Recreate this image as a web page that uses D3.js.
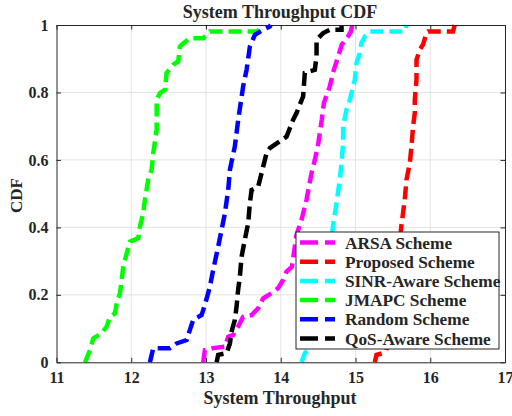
<!DOCTYPE html>
<html>
<head>
<meta charset="utf-8">
<script src="https://cdn.jsdelivr.net/npm/d3@7"></script>
<style>
  body { margin: 0; background: #fff; }
  text { font-family: "Liberation Serif", "Times New Roman", serif; font-weight: bold; fill: #262626; }
</style>
</head>
<body>
<div id="main"></div>
<script>
// each series: [throughput, cdf] pairs
var arsa = [[12.963,0],[12.985,0.036],[13.096,0.042],[13.253,0.046],[13.297,0.076],[13.364,0.081],[13.430,0.106],[13.497,0.135],[13.610,0.140],[13.698,0.160],[13.765,0.190],[13.877,0.205],[13.965,0.220],[14.032,0.244],[14.078,0.269],[14.149,0.283],[14.211,0.378],[14.278,0.422],[14.345,0.482],[14.412,0.561],[14.456,0.600],[14.496,0.640],[14.549,0.719],[14.577,0.769],[14.656,0.818],[14.710,0.867],[14.763,0.903],[14.817,0.942],[14.897,0.965],[14.937,0.980],[14.957,1]];
var proposed = [[15.258,0],[15.281,0.022],[15.369,0.027],[15.414,0.035],[15.459,0.096],[15.512,0.200],[15.566,0.304],[15.615,0.407],[15.659,0.482],[15.682,0.541],[15.727,0.591],[15.749,0.640],[15.770,0.699],[15.793,0.739],[15.793,0.778],[15.816,0.838],[15.816,0.897],[15.860,0.927],[15.904,0.942],[15.949,0.976],[15.972,0.981],[16.305,0.981],[16.327,1]];
var sinr = [[14.278,0],[14.322,0.027],[14.366,0.036],[14.442,0.081],[14.523,0.155],[14.590,0.229],[14.643,0.309],[14.701,0.407],[14.746,0.472],[14.790,0.541],[14.813,0.591],[14.834,0.650],[14.834,0.699],[14.880,0.749],[14.924,0.778],[14.947,0.798],[14.991,0.838],[15.013,0.887],[15.058,0.917],[15.080,0.947],[15.124,0.966],[15.191,0.981],[15.659,0.981],[15.682,1]];
var jmapc = [[11.381,0],[11.448,0.036],[11.492,0.071],[11.604,0.086],[11.671,0.106],[11.715,0.135],[11.782,0.145],[11.805,0.175],[11.849,0.205],[11.872,0.244],[11.893,0.284],[11.939,0.323],[11.983,0.358],[12.094,0.368],[12.116,0.402],[12.160,0.442],[12.183,0.482],[12.227,0.541],[12.273,0.571],[12.294,0.620],[12.340,0.689],[12.340,0.778],[12.384,0.798],[12.451,0.808],[12.473,0.858],[12.561,0.882],[12.628,0.892],[12.651,0.936],[12.695,0.945],[12.785,0.961],[12.963,0.961],[13.008,0.971],[13.052,0.981],[13.694,0.981],[13.747,1]];
var randomScheme = [[12.250,0],[12.294,0.042],[12.517,0.042],[12.607,0.056],[12.741,0.066],[12.829,0.126],[12.941,0.140],[12.985,0.170],[13.052,0.224],[13.096,0.274],[13.163,0.343],[13.209,0.393],[13.253,0.442],[13.297,0.511],[13.320,0.571],[13.386,0.640],[13.431,0.719],[13.497,0.818],[13.543,0.867],[13.587,0.936],[13.654,0.971],[13.765,0.986],[13.854,0.996],[13.868,1]];
var qos = [[13.142,0],[13.163,0.022],[13.275,0.027],[13.320,0.056],[13.342,0.091],[13.386,0.126],[13.409,0.165],[13.430,0.215],[13.453,0.254],[13.476,0.313],[13.519,0.363],[13.564,0.412],[13.587,0.472],[13.610,0.511],[13.698,0.521],[13.765,0.580],[13.810,0.620],[13.854,0.635],[13.988,0.655],[14.078,0.669],[14.166,0.719],[14.211,0.739],[14.299,0.788],[14.322,0.858],[14.456,0.867],[14.479,0.907],[14.479,0.956],[14.567,0.976],[14.656,0.986],[14.813,0.986],[14.813,1]];

var names = ["ARSA Scheme", "Proposed Scheme", "SINR-Aware Scheme", "JMAPC Scheme", "Random Scheme", "QoS-Aware Scheme"];
var colors = ["#ff00ff", "#ff0000", "#00ffff", "#00ff00", "#0000ff", "#000000"];
var seriesList = [arsa, proposed, sinr, jmapc, randomScheme, qos];
var xTicks = [11, 12, 13, 14, 15, 16, 17];
var yTicks = [0, 0.2, 0.4, 0.6, 0.8, 1];

var plotL = 56.5, plotR = 505, plotT = 25, plotB = 362.3;

var svg = d3.select("#main").append("svg")
  .attr("width", 512)
  .attr("height", 416);

var x = d3.scaleLinear().domain([11, 17]).range([plotL, plotR]);
var y = d3.scaleLinear().domain([0, 1]).range([plotB, plotT]);

// grid
svg.append("g").selectAll("line").data(xTicks.slice(1, -1)).enter().append("line")
  .attr("x1", function(d) { return x(d); }).attr("x2", function(d) { return x(d); })
  .attr("y1", plotT).attr("y2", plotB)
  .attr("stroke", "#e3e3e3").attr("stroke-width", 1);
svg.append("g").selectAll("line").data(yTicks.slice(1, -1)).enter().append("line")
  .attr("y1", function(d) { return y(d); }).attr("y2", function(d) { return y(d); })
  .attr("x1", plotL).attr("x2", plotR)
  .attr("stroke", "#e3e3e3").attr("stroke-width", 1);

// curves
var line = d3.line()
  .x(function(d) { return x(d[0]); })
  .y(function(d) { return y(d[1]); });
svg.append("g").selectAll("path").data(seriesList).enter().append("path")
  .attr("d", line)
  .attr("fill", "none")
  .attr("stroke", function(d, i) { return colors[i]; })
  .attr("stroke-width", 4.5)
  .attr("stroke-dasharray", "13,6");

// axes (ticks inward on all four sides)
var tk = 4.5;
var xAxis = d3.axisBottom(x).tickValues(xTicks).tickSizeInner(-tk).tickSizeOuter(0).tickPadding(9).tickFormat(d3.format("d"));
var yAxis = d3.axisLeft(y).tickValues(yTicks).tickSizeInner(-tk).tickSizeOuter(0).tickPadding(8).tickFormat(function(d) { return d === 0 || d === 1 ? d : d3.format(".1f")(d); });
var gx = svg.append("g").attr("transform", "translate(0," + plotB + ")").call(xAxis);
var gy = svg.append("g").attr("transform", "translate(" + plotL + ",0)").call(yAxis);
svg.append("g").attr("transform", "translate(0," + plotT + ")")
  .call(d3.axisTop(x).tickValues(xTicks).tickSizeInner(-tk).tickSizeOuter(0).tickFormat(""));
svg.append("g").attr("transform", "translate(" + plotR + ",0)")
  .call(d3.axisRight(y).tickValues(yTicks).tickSizeInner(-tk).tickSizeOuter(0).tickFormat(""));
svg.selectAll(".domain").attr("stroke", "#262626");
svg.selectAll(".tick line").attr("stroke", "#262626");
gx.selectAll("text").style("font-size", "16px").attr("fill", "#262626");
gy.selectAll("text").style("font-size", "16px").attr("fill", "#262626");

// titles
svg.append("text")
  .attr("x", 280).attr("y", 18)
  .style("text-anchor", "middle").style("font-size", "18px")
  .text("System Throughput CDF");
svg.append("text")
  .attr("x", 280).attr("y", 404)
  .style("text-anchor", "middle").style("font-size", "18px")
  .text("System Throughput");
svg.append("text")
  .attr("transform", "translate(22," + ((plotT + plotB) / 2 + 2) + ") rotate(-90)")
  .style("text-anchor", "middle").style("font-size", "17px")
  .text("CDF");

// legend
var legend = svg.append("g").attr("transform", "translate(296,232)");
legend.append("rect")
  .attr("width", 203).attr("height", 117)
  .attr("fill", "#fff").attr("stroke", "#262626").attr("stroke-width", 1);
var item = legend.selectAll(".legend").data(names).enter().append("g")
  .attr("class", "legend")
  .attr("transform", function(d, i) { return "translate(0," + (10.5 + i * 19.2) + ")"; });
item.append("line")
  .attr("x1", 4).attr("x2", 39)
  .attr("stroke", function(d, i) { return colors[i]; })
  .attr("stroke-width", 4.5)
  .attr("stroke-dasharray", "18,7");
item.append("text")
  .attr("x", 49).attr("dy", "0.35em")
  .style("font-size", "17.3px")
  .text(function(d) { return d; });
</script>
</body>
</html>
